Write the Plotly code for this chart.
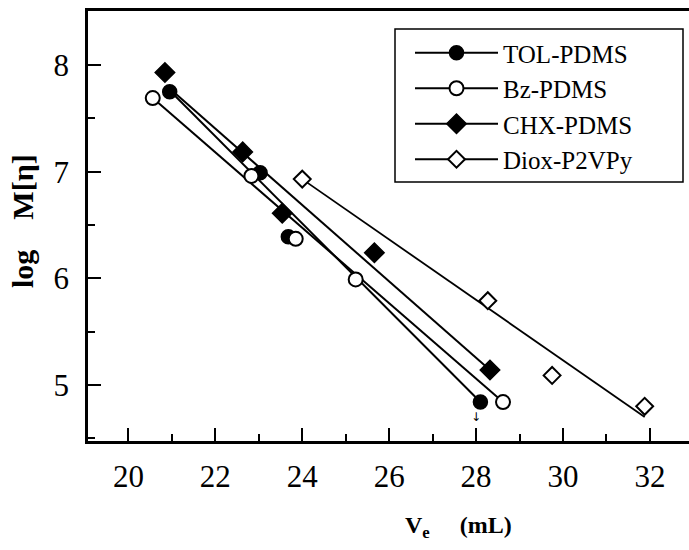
import plotly.graph_objects as go

# ---- data ----
series_names = ["TOL-PDMS", "Bz-PDMS", "CHX-PDMS", "Diox-P2VPy"]

tol_x = [20.95, 23.03, 23.68, 28.10]
tol_y = [7.75, 6.99, 6.39, 4.84]
bz_x = [20.56, 22.83, 23.85, 25.23, 28.62]
bz_y = [7.69, 6.96, 6.37, 5.99, 4.84]
chx_x = [20.84, 22.63, 23.54, 25.66, 28.32]
chx_y = [7.93, 7.185, 6.61, 6.24, 5.14]
diox_x = [24.00, 28.27, 29.75, 31.88]
diox_y = [6.93, 5.79, 5.09, 4.80]

# fitted calibration lines (end points, data units)
tol_fit_x = [20.95, 28.10]
tol_fit_y = [7.76, 4.84]
bz_fit_x = [20.56, 28.62]
bz_fit_y = [7.69, 4.84]
chx_fit_x = [20.95, 28.32]
chx_fit_y = [7.78, 5.14]
diox_fit_x = [24.00, 31.88]
diox_fit_y = [6.93, 4.70]

x_ticks = [20, 22, 24, 26, 28, 30, 32]
y_ticks = [5, 6, 7, 8]

FONT = "Liberation Serif, Times New Roman, serif"

styles = [
    dict(symbol="circle", size=14, color="black", line=dict(color="black", width=1.5)),
    dict(symbol="circle", size=14, color="white", line=dict(color="black", width=2)),
    dict(symbol="diamond", size=15, color="black", line=dict(color="black", width=1.5)),
    dict(symbol="diamond", size=13, color="white", line=dict(color="black", width=2)),
]
line_widths = [2, 2, 2, 1.8]

pts = [(tol_x, tol_y), (bz_x, bz_y), (chx_x, chx_y), (diox_x, diox_y)]
fits = [(tol_fit_x, tol_fit_y), (bz_fit_x, bz_fit_y), (chx_fit_x, chx_fit_y), (diox_fit_x, diox_fit_y)]

fig = go.Figure()

# fit lines first (underneath all markers)
for (fx, fy), lw in zip(fits, line_widths):
    fig.add_trace(go.Scatter(x=fx, y=fy, mode="lines", line=dict(color="black", width=lw),
                             showlegend=False, hoverinfo="skip"))

# markers
for (px, py), st in zip(pts, styles):
    fig.add_trace(go.Scatter(x=px, y=py, mode="markers", marker=st, showlegend=False))

# legend entries
for name, st, lw in zip(series_names, styles, line_widths):
    fig.add_trace(go.Scatter(x=[None], y=[None], mode="lines+markers", name=name,
                             marker=st, line=dict(color="black", width=lw)))

W, H = 689, 550
L, R, T, B = 88, 0, 11, 109
PW, PH = W - L - R, H - T - B

NB = "\u00a0"

def px_x(p):
    return (p - L) / PW

def px_y(p):
    return (H - B - p) / PH

fig.update_layout(
    width=W, height=H,
    margin=dict(l=L, r=R, t=T, b=B, pad=0, autoexpand=False),
    paper_bgcolor="white", plot_bgcolor="white",
    font=dict(family=FONT, color="black"),
    showlegend=True,
    legend=dict(
        x=px_x(410), y=px_y(30),
        xanchor="left", yanchor="top",
        bgcolor="rgba(0,0,0,0)", borderwidth=0,
        font=dict(family=FONT, size=25, color="black"),
        itemwidth=83, tracegroupgap=0,
    ),
    shapes=[
        dict(type="rect", xref="paper", yref="paper",
             x0=px_x(395), x1=px_x(683), y0=px_y(182), y1=px_y(29),
             line=dict(color="black", width=1.5), fillcolor="white", layer="below"),
    ],
    xaxis=dict(
        range=[19.07, 32.9], tickmode="array", tickvals=x_ticks,
        ticktext=[str(v) for v in x_ticks],
        ticks="inside", ticklen=13, tickwidth=2, tickcolor="black",
        minor=dict(dtick=1, tick0=19, ticks="inside", ticklen=7, tickwidth=2, tickcolor="black"),
        showline=True, linecolor="black", linewidth=2.5, mirror=True,
        showgrid=False, zeroline=False, automargin=False,
        tickfont=dict(family=FONT, size=31, color="black"),
        ticklabelstandoff=6,
    ),
    yaxis=dict(
        range=[4.475, 8.506], tickmode="array", tickvals=y_ticks,
        ticktext=[str(v) for v in y_ticks],
        ticks="inside", ticklen=13, tickwidth=2, tickcolor="black",
        minor=dict(dtick=0.5, tick0=4.5, ticks="inside", ticklen=7, tickwidth=2, tickcolor="black"),
        showline=True, linecolor="black", linewidth=2.5,
        showgrid=False, zeroline=False, automargin=False,
        tickfont=dict(family=FONT, size=31, color="black"),
        ticklabelstandoff=10,
    ),
    annotations=[
        dict(text="<b>V<sub>e</sub>" + NB * 5 + "(mL)</b>", xref="paper", yref="paper",
             x=px_x(403), y=px_y(527),
             xanchor="left", yanchor="middle", showarrow=False,
             font=dict(family=FONT, size=24, color="black")),
        dict(text="<b>log" + NB * 4 + "M[\u03b7]</b>", xref="paper", yref="paper",
             x=px_x(22), y=px_y(221),
             xanchor="center", yanchor="middle", textangle=-90, showarrow=False,
             font=dict(family=FONT, size=30, color="black")),
        dict(text="\u2193", x=28, y=4.70, xref="x", yref="y", showarrow=False,
             xanchor="center", yanchor="middle",
             font=dict(family="DejaVu Sans", size=12, color="black")),
    ],
)

fig.write_html("out.html", config={"displayModeBar": False},
               post_script="document.body.style.margin='0';document.body.style.padding='0';")
